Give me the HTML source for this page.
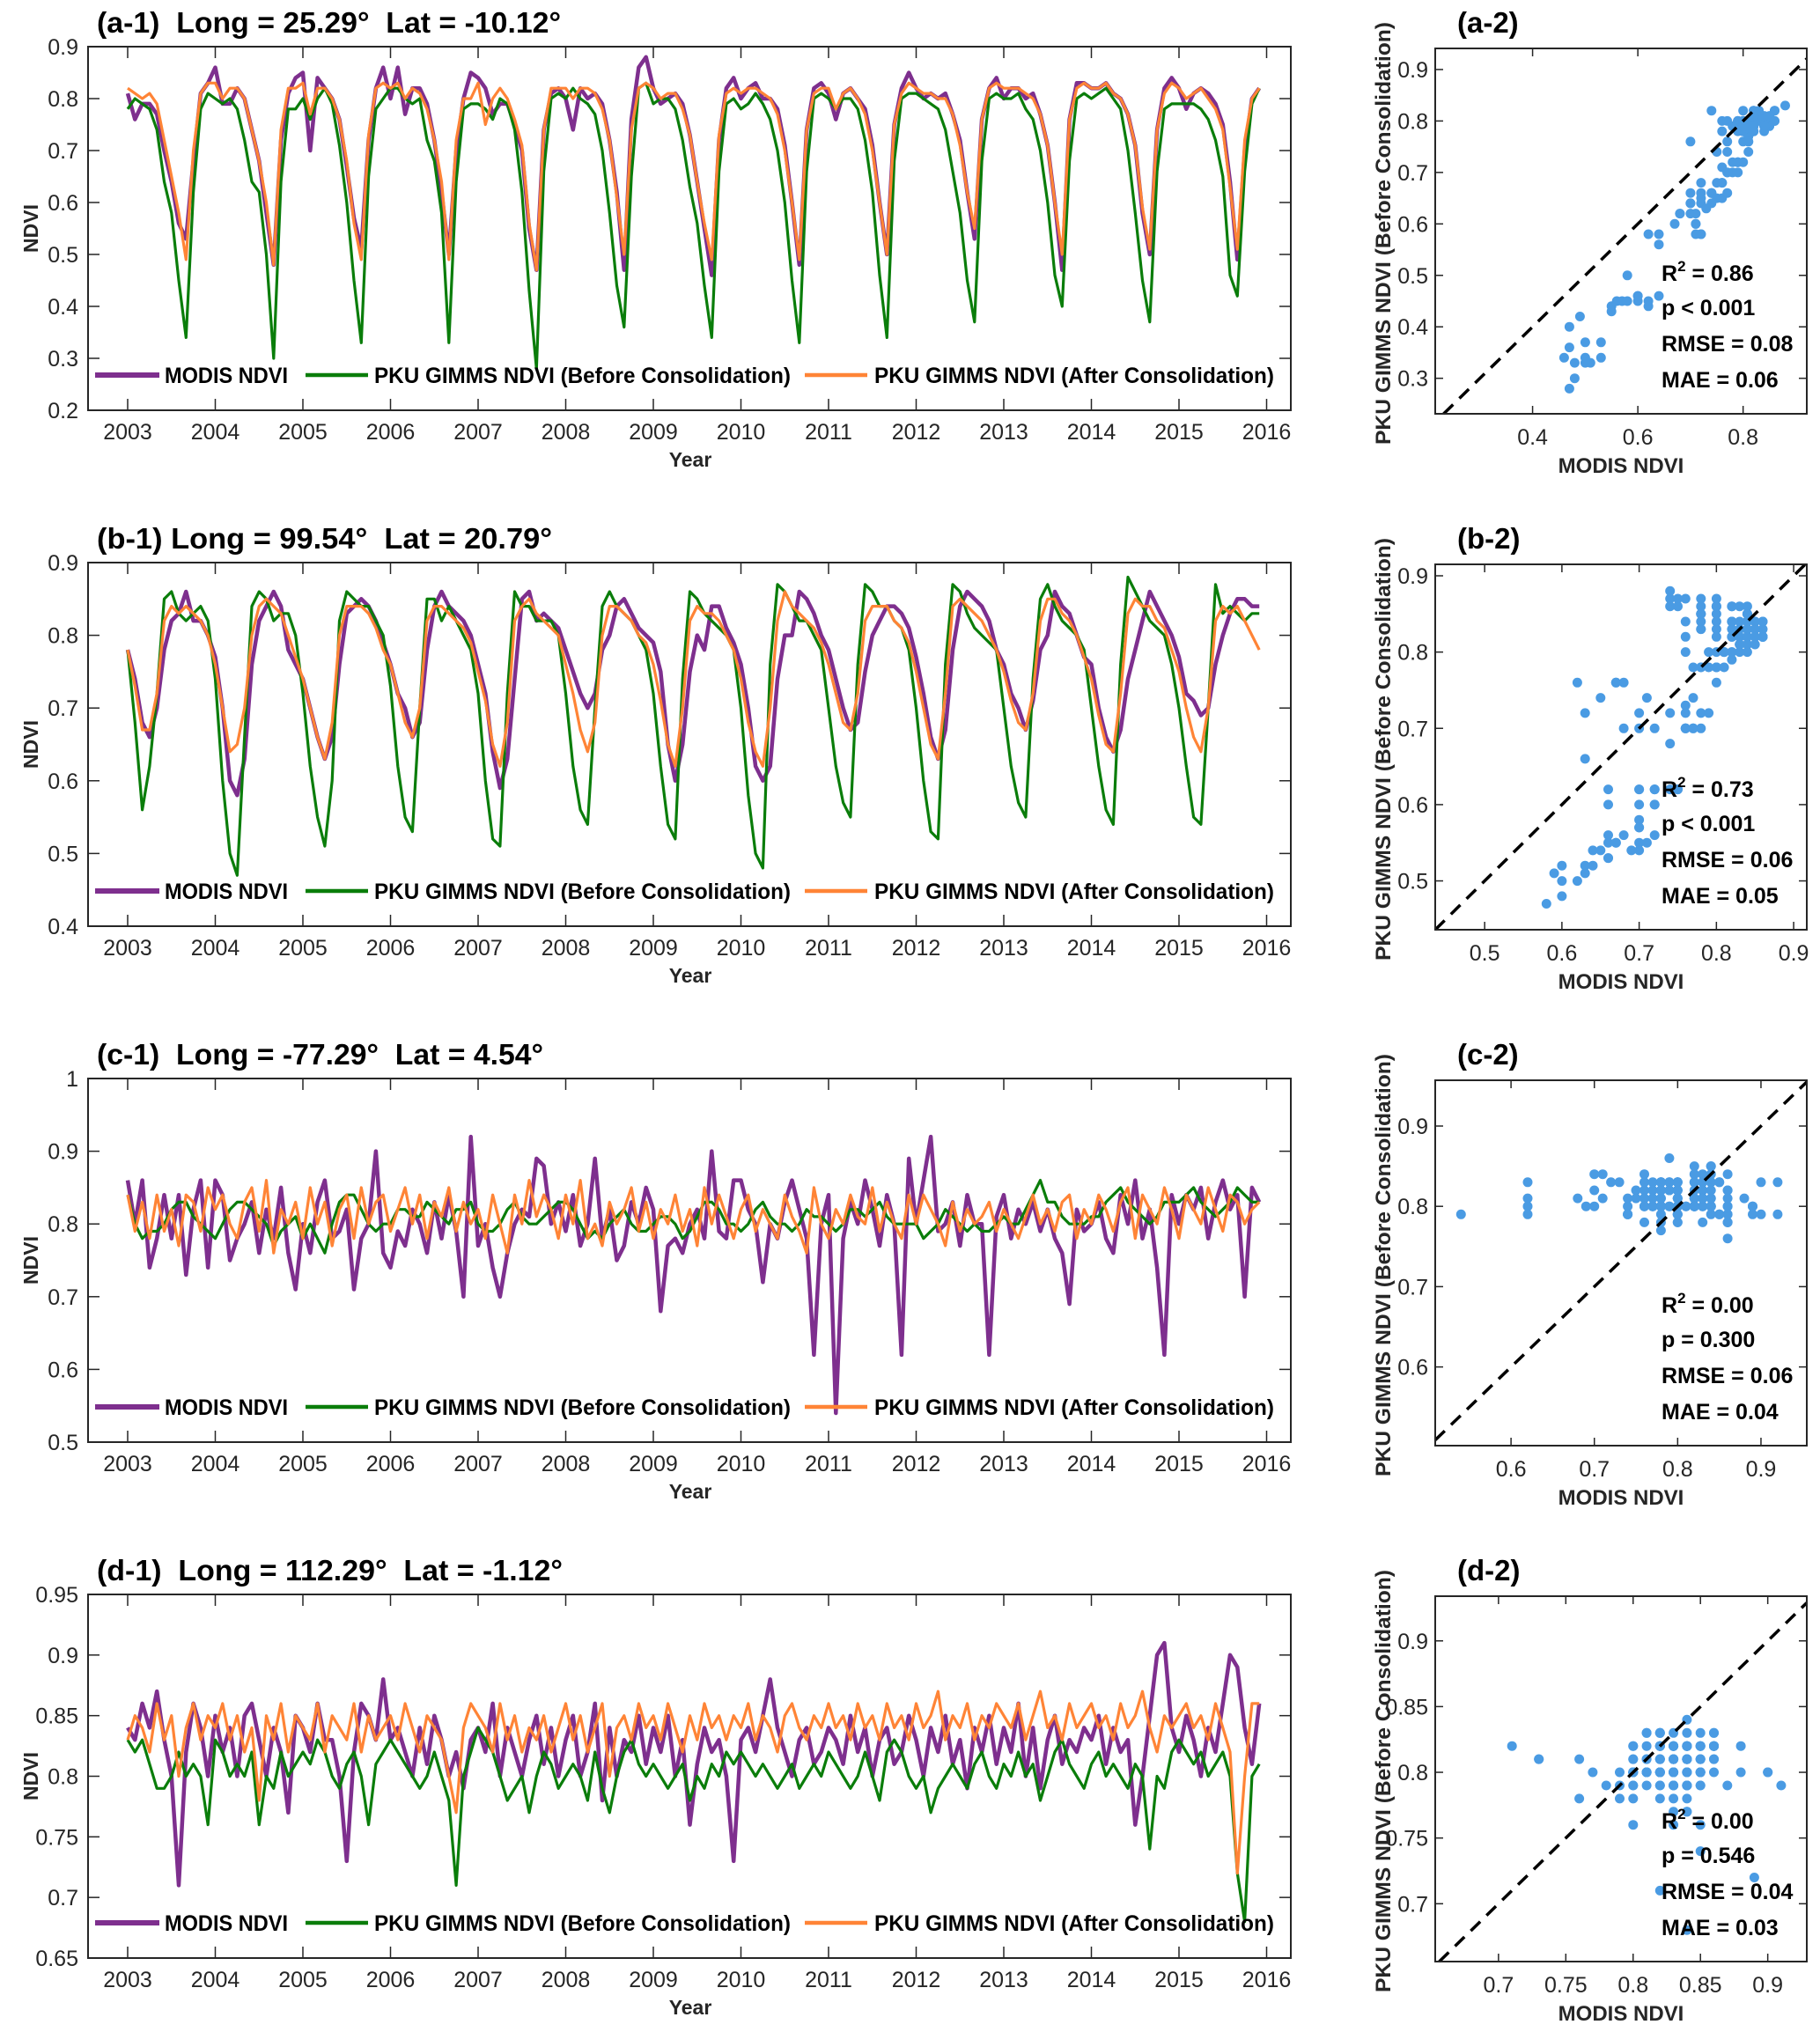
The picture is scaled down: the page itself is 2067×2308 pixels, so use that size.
<!DOCTYPE html>
<html><head><meta charset="utf-8"><title>NDVI comparison</title>
<style>
html,body{margin:0;padding:0;background:#fff;}
svg{display:block;font-family:"Liberation Sans",Arial,sans-serif;}
</style></head>
<body>
<svg id="fig" xmlns="http://www.w3.org/2000/svg" width="2067" height="2308" viewBox="0 0 2067 2308"></svg>
<script>
// ---------- DATA (monthly, Jan 2003 .. Dec 2015) ----------
const years = [2003,2004,2005,2006,2007,2008,2009,2010,2011,2012,2013,2014,2015,2016];

const aModis = [
.81,.76,.79,.79,.77,.70,.64,.56,.53,.68,.81,.83,
.86,.79,.79,.82,.80,.74,.68,.58,.48,.72,.81,.84,
.85,.70,.84,.82,.80,.76,.67,.57,.51,.72,.82,.86,
.80,.86,.77,.82,.82,.79,.72,.62,.50,.70,.80,.85,
.84,.82,.77,.79,.79,.75,.70,.55,.47,.74,.81,.82,
.80,.74,.82,.80,.81,.79,.72,.62,.47,.76,.86,.88,
.82,.79,.80,.81,.79,.73,.64,.55,.46,.72,.82,.84,
.80,.82,.83,.80,.80,.78,.71,.60,.48,.74,.82,.83,
.81,.76,.81,.82,.80,.78,.71,.60,.50,.75,.82,.85,
.82,.80,.81,.80,.81,.77,.72,.62,.53,.76,.82,.84,
.80,.82,.82,.80,.81,.77,.71,.60,.47,.76,.83,.83,
.82,.82,.83,.81,.80,.77,.71,.58,.50,.74,.82,.84,
.82,.78,.81,.82,.81,.79,.75,.64,.49,.70,.80,.82];
const aBefore = [
.78,.80,.79,.78,.74,.64,.58,.45,.34,.62,.78,.81,
.80,.79,.80,.78,.72,.64,.62,.50,.30,.64,.78,.78,
.80,.76,.80,.82,.79,.71,.60,.45,.33,.65,.78,.80,
.82,.82,.80,.79,.80,.72,.68,.58,.33,.64,.78,.79,
.79,.78,.76,.80,.79,.74,.62,.43,.28,.66,.80,.81,
.80,.82,.80,.79,.77,.70,.58,.44,.36,.65,.82,.83,
.79,.80,.80,.78,.72,.63,.56,.44,.34,.66,.79,.80,
.78,.79,.81,.79,.76,.70,.60,.45,.33,.66,.80,.81,
.80,.78,.80,.80,.78,.72,.62,.46,.34,.68,.80,.81,
.81,.80,.79,.78,.74,.66,.58,.45,.37,.68,.80,.81,
.80,.80,.81,.78,.76,.70,.60,.46,.40,.68,.80,.81,
.80,.81,.82,.80,.78,.70,.58,.45,.37,.66,.78,.79,
.79,.79,.79,.78,.76,.72,.65,.46,.42,.66,.79,.82];
const aAfter = [
.82,.81,.80,.81,.79,.72,.65,.58,.49,.70,.81,.83,
.83,.80,.82,.82,.80,.74,.68,.60,.48,.74,.82,.82,
.83,.77,.82,.82,.80,.76,.68,.56,.49,.73,.82,.83,
.82,.83,.80,.82,.81,.78,.72,.64,.49,.72,.80,.80,
.83,.75,.80,.82,.80,.76,.71,.56,.47,.74,.82,.82,
.82,.80,.82,.82,.81,.78,.72,.61,.50,.74,.82,.83,
.82,.80,.81,.81,.78,.73,.64,.56,.49,.73,.81,.82,
.81,.82,.82,.81,.80,.77,.70,.60,.49,.74,.81,.82,
.82,.78,.81,.82,.80,.77,.70,.60,.50,.75,.81,.83,
.82,.81,.81,.80,.80,.77,.71,.62,.55,.76,.82,.83,
.82,.82,.82,.81,.80,.77,.71,.60,.50,.76,.82,.83,
.82,.82,.83,.81,.80,.77,.71,.59,.51,.74,.81,.83,
.82,.80,.81,.82,.80,.78,.74,.63,.51,.72,.80,.82];

const bModis = [
.78,.74,.68,.66,.70,.78,.82,.83,.86,.82,.82,.80,
.77,.70,.60,.58,.63,.76,.82,.84,.86,.84,.78,.76,
.74,.70,.66,.63,.66,.76,.83,.84,.85,.84,.82,.79,
.76,.72,.70,.66,.68,.78,.84,.86,.84,.83,.82,.80,
.76,.72,.64,.59,.63,.74,.85,.86,.82,.83,.82,.81,
.78,.75,.72,.70,.72,.78,.80,.84,.85,.83,.81,.80,
.79,.75,.65,.60,.65,.75,.80,.78,.84,.84,.81,.79,
.76,.70,.62,.60,.62,.74,.80,.80,.86,.85,.83,.80,
.78,.74,.70,.67,.68,.75,.80,.82,.84,.84,.83,.81,
.77,.72,.66,.63,.67,.78,.84,.86,.85,.84,.82,.78,
.76,.72,.70,.67,.71,.78,.80,.86,.84,.83,.80,.77,
.76,.70,.66,.64,.67,.74,.78,.82,.86,.84,.82,.80,
.77,.72,.71,.69,.70,.76,.80,.83,.85,.85,.84,.84];
const bBefore = [
.78,.68,.56,.62,.72,.85,.86,.83,.82,.83,.84,.82,
.74,.60,.50,.47,.66,.84,.86,.85,.82,.83,.83,.80,
.72,.62,.55,.51,.60,.82,.86,.85,.84,.84,.82,.80,
.73,.62,.55,.53,.70,.85,.85,.82,.84,.82,.80,.78,
.72,.60,.52,.51,.72,.86,.84,.84,.82,.82,.82,.80,
.72,.62,.56,.54,.70,.84,.86,.84,.83,.82,.80,.78,
.72,.62,.54,.52,.74,.86,.85,.83,.82,.81,.80,.78,
.70,.58,.50,.48,.76,.87,.86,.84,.82,.82,.80,.78,
.70,.62,.57,.55,.76,.87,.86,.84,.84,.82,.81,.78,
.70,.60,.53,.52,.76,.87,.86,.83,.81,.80,.79,.78,
.70,.62,.57,.55,.74,.85,.87,.84,.82,.81,.80,.78,
.70,.62,.56,.54,.76,.88,.86,.84,.82,.81,.80,.76,
.70,.62,.55,.54,.70,.87,.83,.84,.83,.82,.83,.83];
const bAfter = [
.78,.73,.67,.67,.72,.82,.84,.83,.84,.83,.82,.80,
.76,.70,.64,.65,.70,.80,.84,.85,.84,.83,.80,.77,
.74,.70,.66,.63,.68,.80,.84,.84,.84,.83,.81,.78,
.76,.72,.68,.66,.70,.82,.84,.84,.83,.82,.81,.79,
.75,.71,.65,.62,.68,.82,.84,.85,.83,.82,.81,.80,
.76,.72,.67,.64,.68,.80,.84,.84,.83,.82,.80,.79,
.76,.71,.65,.62,.70,.82,.84,.83,.83,.82,.80,.78,
.74,.68,.64,.62,.70,.82,.86,.84,.83,.82,.81,.79,
.76,.72,.68,.67,.72,.82,.84,.84,.84,.82,.81,.79,
.75,.70,.65,.63,.72,.84,.85,.84,.83,.82,.80,.78,
.75,.71,.68,.67,.72,.82,.85,.85,.83,.82,.80,.77,
.74,.69,.65,.64,.72,.83,.85,.84,.84,.82,.81,.78,
.75,.70,.66,.64,.70,.82,.84,.83,.84,.82,.80,.78];

const cModis = [
.86,.80,.86,.74,.78,.84,.78,.84,.73,.82,.86,.74,
.86,.84,.75,.78,.80,.83,.76,.82,.78,.85,.76,.71,
.80,.76,.83,.86,.78,.79,.82,.71,.78,.80,.90,.76,
.74,.79,.77,.82,.80,.76,.83,.78,.84,.79,.70,.92,
.77,.80,.74,.70,.76,.80,.82,.81,.89,.88,.80,.83,
.79,.84,.77,.80,.89,.78,.82,.75,.77,.83,.80,.85,
.82,.68,.77,.78,.76,.80,.82,.78,.90,.79,.78,.86,
.86,.82,.80,.72,.80,.78,.83,.86,.82,.78,.62,.80,
.84,.54,.78,.83,.80,.86,.82,.77,.84,.80,.62,.89,
.80,.86,.92,.79,.80,.83,.77,.84,.80,.80,.62,.81,
.84,.78,.82,.80,.83,.79,.82,.78,.76,.69,.82,.79,
.80,.83,.78,.76,.84,.80,.86,.78,.82,.74,.62,.84,
.80,.84,.82,.85,.78,.83,.86,.82,.84,.70,.85,.83];
const cBefore = [
.84,.80,.78,.79,.79,.80,.82,.83,.83,.81,.80,.79,
.78,.80,.82,.83,.83,.82,.81,.80,.77,.79,.80,.81,
.78,.80,.78,.76,.80,.83,.84,.84,.82,.80,.79,.80,
.80,.82,.82,.81,.81,.83,.82,.81,.80,.82,.82,.83,
.80,.79,.79,.80,.82,.83,.81,.80,.80,.81,.82,.83,
.83,.82,.80,.78,.79,.78,.80,.81,.82,.80,.79,.79,
.80,.81,.81,.80,.78,.79,.81,.83,.83,.82,.80,.80,
.79,.80,.82,.83,.81,.80,.80,.79,.80,.82,.81,.81,
.80,.79,.80,.82,.82,.81,.82,.83,.81,.80,.80,.80,
.80,.78,.79,.80,.82,.81,.80,.79,.80,.79,.79,.80,
.81,.80,.80,.82,.84,.86,.83,.83,.81,.80,.80,.80,
.81,.81,.83,.84,.85,.83,.82,.81,.80,.81,.83,.83,
.83,.84,.85,.83,.82,.81,.82,.83,.85,.84,.83,.83];
const cAfter = [
.84,.79,.83,.78,.84,.79,.82,.77,.84,.83,.79,.85,
.82,.84,.80,.78,.83,.85,.79,.86,.76,.82,.80,.83,
.78,.85,.80,.83,.77,.82,.84,.78,.85,.80,.83,.84,
.79,.82,.85,.80,.84,.78,.83,.81,.85,.79,.83,.80,
.82,.78,.84,.80,.76,.84,.80,.86,.81,.84,.82,.78,
.84,.80,.86,.78,.80,.77,.83,.80,.82,.85,.79,.83,
.78,.82,.80,.84,.79,.82,.77,.85,.80,.84,.81,.78,
.82,.84,.79,.82,.80,.78,.84,.81,.79,.76,.85,.80,
.78,.82,.80,.84,.81,.80,.85,.79,.83,.80,.78,.84,
.80,.84,.82,.80,.77,.83,.79,.82,.80,.81,.83,.79,
.82,.80,.78,.81,.84,.80,.82,.79,.83,.84,.78,.82,
.80,.84,.82,.79,.83,.85,.78,.84,.82,.80,.85,.82,
.78,.84,.82,.80,.85,.82,.79,.84,.83,.80,.82,.83];

const dModis = [
.84,.83,.86,.84,.87,.83,.80,.71,.82,.86,.84,.80,
.85,.82,.84,.80,.85,.86,.83,.80,.84,.82,.77,.85,
.84,.82,.86,.83,.83,.80,.73,.82,.86,.85,.83,.88,
.83,.84,.82,.80,.84,.81,.85,.83,.80,.82,.79,.83,
.84,.82,.86,.80,.84,.82,.80,.83,.85,.81,.84,.80,
.83,.85,.80,.82,.86,.78,.84,.80,.83,.82,.85,.81,
.84,.82,.85,.80,.83,.76,.81,.84,.82,.83,.80,.73,
.83,.84,.82,.85,.88,.84,.82,.80,.83,.84,.81,.82,
.84,.83,.81,.85,.82,.84,.80,.83,.84,.81,.82,.85,
.83,.80,.84,.82,.85,.81,.83,.79,.84,.82,.85,.81,
.84,.82,.86,.80,.84,.79,.83,.85,.81,.83,.82,.84,
.83,.85,.81,.84,.82,.83,.76,.80,.85,.90,.91,.84,
.82,.85,.83,.80,.84,.82,.86,.90,.89,.84,.81,.86];
const dBefore = [
.83,.82,.83,.81,.79,.79,.80,.82,.80,.81,.80,.76,
.83,.82,.80,.81,.80,.82,.76,.80,.79,.82,.80,.81,
.82,.81,.83,.82,.80,.79,.81,.82,.80,.76,.81,.82,
.83,.82,.81,.80,.79,.80,.82,.80,.78,.71,.80,.82,
.84,.83,.82,.80,.78,.79,.80,.77,.80,.82,.81,.79,
.80,.81,.80,.78,.82,.79,.77,.80,.82,.83,.81,.80,
.81,.80,.79,.80,.81,.78,.80,.79,.81,.80,.82,.81,
.82,.81,.80,.81,.80,.79,.80,.81,.79,.80,.81,.80,
.82,.81,.80,.79,.80,.82,.80,.78,.82,.83,.82,.80,
.79,.80,.77,.79,.80,.81,.80,.79,.81,.82,.80,.79,
.81,.80,.82,.80,.81,.78,.80,.82,.83,.81,.80,.79,
.81,.82,.80,.81,.80,.79,.81,.80,.74,.80,.79,.82,
.83,.82,.81,.82,.80,.81,.82,.80,.72,.68,.80,.81];
const dAfter = [
.83,.85,.84,.82,.86,.83,.85,.80,.84,.86,.83,.85,
.84,.86,.83,.85,.82,.84,.78,.85,.83,.86,.82,.85,
.84,.83,.86,.82,.85,.84,.83,.86,.82,.85,.83,.84,
.85,.83,.86,.84,.82,.85,.84,.83,.80,.77,.84,.86,
.85,.84,.82,.86,.83,.85,.82,.84,.83,.85,.82,.84,
.86,.83,.85,.82,.84,.86,.80,.84,.85,.83,.86,.84,
.85,.83,.86,.84,.82,.85,.83,.86,.84,.85,.83,.85,
.84,.86,.83,.85,.84,.82,.85,.86,.84,.83,.85,.84,
.86,.84,.85,.83,.86,.84,.85,.83,.86,.84,.85,.83,
.86,.84,.85,.87,.83,.85,.84,.86,.83,.85,.84,.86,
.85,.84,.86,.83,.85,.87,.84,.85,.83,.86,.84,.85,
.86,.84,.85,.83,.86,.84,.85,.87,.84,.82,.85,.84,
.85,.86,.84,.85,.83,.86,.84,.82,.72,.80,.86,.86];

const aYTicks = [0.2,0.3,0.4,0.5,0.6,0.7,0.8,0.9];
const bYTicks = [0.4,0.5,0.6,0.7,0.8,0.9];
const cYTicks = [0.5,0.6,0.7,0.8,0.9,1];
const dYTicks = [0.65,0.7,0.75,0.8,0.85,0.9,0.95];
const aScatXTicks = [0.4,0.6,0.8], aScatYTicks = [0.3,0.4,0.5,0.6,0.7,0.8,0.9];
const bScatXTicks = [0.5,0.6,0.7,0.8,0.9], bScatYTicks = [0.5,0.6,0.7,0.8,0.9];
const cScatXTicks = [0.6,0.7,0.8,0.9], cScatYTicks = [0.6,0.7,0.8,0.9];
const dScatXTicks = [0.7,0.75,0.8,0.85,0.9], dScatYTicks = [0.7,0.75,0.8,0.85,0.9];

const titles = ["(a-1)  Long = 25.29°  Lat = -10.12°","(b-1) Long = 99.54°  Lat = 20.79°","(c-1)  Long = -77.29°  Lat = 4.54°","(d-1)  Long = 112.29°  Lat = -1.12°"];
const titleWidths = [527, 517, 507, 529];
const stats = [
 ["0.86","p < 0.001","RMSE = 0.08","MAE = 0.06"],
 ["0.73","p < 0.001","RMSE = 0.06","MAE = 0.05"],
 ["0.00","p = 0.300","RMSE = 0.06","MAE = 0.04"],
 ["0.00","p = 0.546","RMSE = 0.04","MAE = 0.03"]];

// ---------- DRAWING ----------
const NS = "http://www.w3.org/2000/svg";
const svg = document.getElementById("fig");
function mk(tag, attrs, parent){
  const e = document.createElementNS(NS, tag);
  for (const k in attrs) e.setAttribute(k, attrs[k]);
  (parent || svg).appendChild(e);
  return e;
}
const AX = "#262626";
const C_MODIS = "#7E2F8E", C_BEFORE = "#0A7D0A", C_AFTER = "#FF8436", C_DOT = "#4A9BE3";

const panels = [
 {key:"a", modis:aModis, before:aBefore, after:aAfter, yt:aYTicks, ymin:0.2, ymax:0.9, sxt:aScatXTicks, syt:aScatYTicks, sx:[0.215,0.921], sy:[0.231,0.941]},
 {key:"b", modis:bModis, before:bBefore, after:bAfter, yt:bYTicks, ymin:0.4, ymax:0.9, sxt:bScatXTicks, syt:bScatYTicks, sx:[0.436,0.917], sy:[0.436,0.915]},
 {key:"c", modis:cModis, before:cBefore, after:cAfter, yt:cYTicks, ymin:0.5, ymax:1.0, sxt:cScatXTicks, syt:cScatYTicks, sx:[0.509,0.955], sy:[0.502,0.957]},
 {key:"d", modis:dModis, before:dBefore, after:dAfter, yt:dYTicks, ymin:0.65, ymax:0.95, sxt:dScatXTicks, syt:dScatYTicks, sx:[0.653,0.929], sy:[0.656,0.934]}
];

panels.forEach((p, r) => {
  const off = 586 * r;
  const L = 100, R = 1466, T = 53 + off, B = 466 + off;
  const xOf = t => 145 + (t - 2003) * 99.5;
  const yOf = v => B - (v - p.ymin) / (p.ymax - p.ymin) * (B - T);
  const g = mk("g", {});
  
  

  const title = mk("text", {x:110, y:37 + off, "font-size":33, "font-weight":"bold", fill:"#000", "xml:space":"preserve", textLength:titleWidths[r], lengthAdjust:"spacingAndGlyphs"}, g);
  title.setAttributeNS("http://www.w3.org/XML/1998/namespace", "xml:space", "preserve");
  title.style.whiteSpace = "pre";
  title.textContent = titles[r];
  
  

  years.forEach(yr => {
    const x = xOf(yr);
    mk("line", {x1:x, x2:x, y1:B, y2:B-13, stroke:AX, "stroke-width":1.5}, g);
    mk("line", {x1:x, x2:x, y1:T, y2:T+13, stroke:AX, "stroke-width":1.5}, g);
    const tl = mk("text", {x:x, y:B+33, "font-size":25, "text-anchor":"middle", fill:AX}, g);
    tl.textContent = String(yr);
    
    
  });
  p.yt.forEach(v => {
    const y = yOf(v);
    mk("line", {x1:L, x2:L+13, y1:y, y2:y, stroke:AX, "stroke-width":1.5}, g);
    mk("line", {x1:R, x2:R-13, y1:y, y2:y, stroke:AX, "stroke-width":1.5}, g);
    const tl = mk("text", {x:89, y:y+9, "font-size":25, "text-anchor":"end", fill:AX}, g);
    tl.textContent = String(v);
    
    
  });

  const series = [[p.modis, C_MODIS, 4.5, 'modis-line'], [p.before, C_BEFORE, 3.2, 'before-consolidation-line'], [p.after, C_AFTER, 3.2, 'after-consolidation-line']];
  series.forEach(s => {
    const pts = s[0].map((v, i) => xOf(2003 + i / 12).toFixed(1) + "," + yOf(v).toFixed(1)).join(" ");
    const pl = mk("polyline", {points:pts, fill:"none", stroke:s[1], "stroke-width":s[2], "stroke-linejoin":"round"}, g);
    
    
  });

  const box = mk("rect", {x:L, y:T, width:R-L, height:B-T, fill:"none", stroke:AX, "stroke-width":2}, g);
  
  

  const ly = 426 + off;
  const leg = [[108,181,C_MODIS,6,187,"MODIS NDVI",140],[347,418,C_BEFORE,4.5,425,"PKU GIMMS NDVI (Before Consolidation)",473],[914,985,C_AFTER,4.5,993,"PKU GIMMS NDVI (After Consolidation)",454]];
  leg.forEach((e, k) => {
    const lg = mk("g", {}, g);
    
    
    mk("line", {x1:e[0], x2:e[1], y1:ly, y2:ly, stroke:e[2], "stroke-width":e[3]}, lg);
    const t = mk("text", {x:e[4], y:ly+9, "font-size":25, "font-weight":"bold", fill:"#000", textLength:e[6], lengthAdjust:"spacingAndGlyphs"}, lg);
    t.textContent = e[5];
  });

  const yl = mk("text", {x:0, y:0, "font-size":23, "font-weight":"bold", fill:"#262626", "text-anchor":"middle", transform:"translate(43," + ((T+B)/2) + ") rotate(-90)"}, g);
  yl.textContent = "NDVI";
  
  
  const xl = mk("text", {x:784, y:530 + off, "font-size":23, "font-weight":"bold", fill:"#262626", "text-anchor":"middle"}, g);
  xl.textContent = "Year";
  
  

  // ---------- scatter ----------
  const SL = 1630, SR = 2052, ST = 55 + off, SB = 470 + off;
  const sxOf = v => SL + (v - p.sx[0]) / (p.sx[1] - p.sx[0]) * (SR - SL);
  const syOf = v => SB - (v - p.sy[0]) / (p.sy[1] - p.sy[0]) * (SB - ST);
  const sg = mk("g", {});
  
  
  const st = mk("text", {x:1655, y:37 + off, "font-size":33, "font-weight":"bold", fill:"#000"}, sg);
  st.textContent = "(" + p.key + "-2)";
  
  

  p.sxt.forEach(v => {
    const x = sxOf(v);
    mk("line", {x1:x, x2:x, y1:SB, y2:SB-9, stroke:AX, "stroke-width":1.5}, sg);
    mk("line", {x1:x, x2:x, y1:ST, y2:ST+9, stroke:AX, "stroke-width":1.5}, sg);
    const tl = mk("text", {x:x, y:SB+35, "font-size":25, "text-anchor":"middle", fill:AX}, sg);
    tl.textContent = String(v);
    
    
  });
  p.syt.forEach(v => {
    const y = syOf(v);
    mk("line", {x1:SL, x2:SL+9, y1:y, y2:y, stroke:AX, "stroke-width":1.5}, sg);
    mk("line", {x1:SR, x2:SR-9, y1:y, y2:y, stroke:AX, "stroke-width":1.5}, sg);
    const tl = mk("text", {x:1622, y:y+9, "font-size":25, "text-anchor":"end", fill:AX}, sg);
    tl.textContent = String(v);
    
    
  });

  p.modis.forEach((mv, i) => {
    const c = mk("circle", {cx:sxOf(mv).toFixed(1), cy:syOf(p.before[i]).toFixed(1), r:5.5, fill:C_DOT}, sg);
    
    
  });

  const lo = Math.max(p.sx[0], p.sy[0]), hi = Math.min(p.sx[1], p.sy[1]);
  const dl = mk("line", {x1:sxOf(lo), y1:syOf(lo), x2:sxOf(hi), y2:syOf(hi), stroke:"#000", "stroke-width":3.5, "stroke-dasharray":"15 10"}, sg);
  
  

  mk("rect", {x:SL, y:ST, width:SR-SL, height:SB-ST, fill:"none", stroke:AX, "stroke-width":2}, sg);

  const s = stats[r];
  const sx0 = 1887;
  const t1 = mk("text", {x:sx0, y:ST+264, "font-size":25, "font-weight":"bold", fill:"#000"}, sg);
  t1.innerHTML = 'R<tspan dy="-11" font-size="17">2</tspan><tspan dy="11"> = ' + s[0] + '</tspan>';
  
  
  [s[1], s[2], s[3]].forEach((txt, k) => {
    const t = mk("text", {x:sx0, y:ST + 303 + k * 41, "font-size":25, "font-weight":"bold", fill:"#000"}, sg);
    t.textContent = txt;
    
    
  });

  const sxl = mk("text", {x:1841, y:537 + off, "font-size":24, "font-weight":"bold", fill:"#262626", "text-anchor":"middle"}, sg);
  sxl.textContent = "MODIS NDVI";
  
  
  const syl = mk("text", {x:0, y:0, "font-size":24, "font-weight":"bold", fill:"#262626", "text-anchor":"middle", textLength:480, lengthAdjust:"spacingAndGlyphs", transform:"translate(1579," + (265 + off) + ") rotate(-90)"}, sg);
  syl.textContent = "PKU GIMMS NDVI (Before Consolidation)";
  
  
});
</script>
</body></html>
